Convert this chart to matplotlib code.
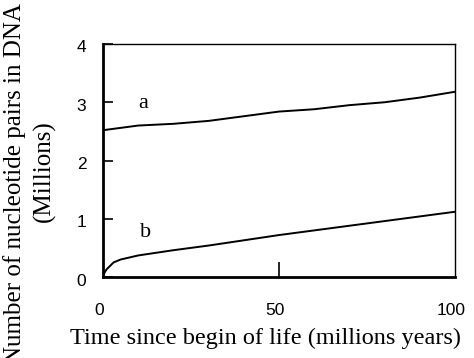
import matplotlib
matplotlib.use("Agg")
import matplotlib.pyplot as plt
from matplotlib.transforms import ScaledTranslation

time_a = [0, 10, 20, 30, 40, 50, 60, 70, 80, 90, 100]
dna_a = [2.52, 2.6, 2.63, 2.68, 2.76, 2.84, 2.88, 2.95, 3.0, 3.08, 3.18]
time_b = [0, 1, 3, 5, 10, 20, 30, 40, 50, 60, 70, 80, 90, 100]
dna_b = [0.03, 0.13, 0.25, 0.3, 0.37, 0.46, 0.54, 0.63, 0.72, 0.8, 0.88, 0.96, 1.04, 1.12]
x_ticks = [0, 50, 100]
y_ticks = [0, 1, 2, 3, 4]

W, H = 474, 358
fig = plt.figure(figsize=(W/100, H/100), dpi=100)
ax = fig.add_axes([103/W, 1-277/H, (455-103)/W, (277-44)/H])

ax.plot(time_a, dna_a, color="black", lw=1.4)
ax.plot(time_b, dna_b, color="black", lw=1.4)
ax.set_xlim(0, 100)
ax.set_ylim(0, 4)

serif = "Liberation Serif"
sans = "Liberation Sans"
ax.text(11.5, 2.97, "a", fontsize=16, family=serif, ha="center", va="center")
ax.text(12, 0.77, "b", fontsize=16, family=serif, ha="center", va="center")

ax.set_xticks(x_ticks)
ax.set_xticklabels([str(v) for v in x_ticks], family=sans, fontsize=12.5)
ax.set_yticks(y_ticks)
ax.set_yticklabels([str(v) for v in y_ticks], family=sans, fontsize=12.5)
ax.tick_params(axis="x", direction="in", length=11, width=1.2, pad=19)
ax.tick_params(axis="y", direction="in", length=7, width=1.2, pad=12)
for t in ax.xaxis.get_major_ticks():
    if t.get_loc() != 50:
        t.tick1line.set_visible(False)
shift_x = ScaledTranslation(-4/100, 0, fig.dpi_scale_trans)
for lab in ax.get_xticklabels():
    lab.set_transform(lab.get_transform() + shift_x)
shift_y = ScaledTranslation(0, -2.5/100, fig.dpi_scale_trans)
for lab in ax.get_yticklabels():
    lab.set_transform(lab.get_transform() + shift_y)

ax.spines["left"].set_linewidth(2)
ax.spines["bottom"].set_linewidth(2)
ax.spines["top"].set_linewidth(1)
ax.spines["right"].set_linewidth(1)

fig.text(266/W, 1-338/H, "Time since begin of life (millions years)", family=serif,
         fontsize=17.5, ha="center", va="center")
fig.text(15/W, 1-184/H, "Number of nucleotide pairs in DNA", family=serif,
         fontsize=18, ha="center", va="center", rotation=90)
fig.text(44/W, 1-171/H, "(Millions)", family=serif,
         fontsize=18, ha="center", va="center", rotation=90)

fig.savefig("out.png", dpi=100)
